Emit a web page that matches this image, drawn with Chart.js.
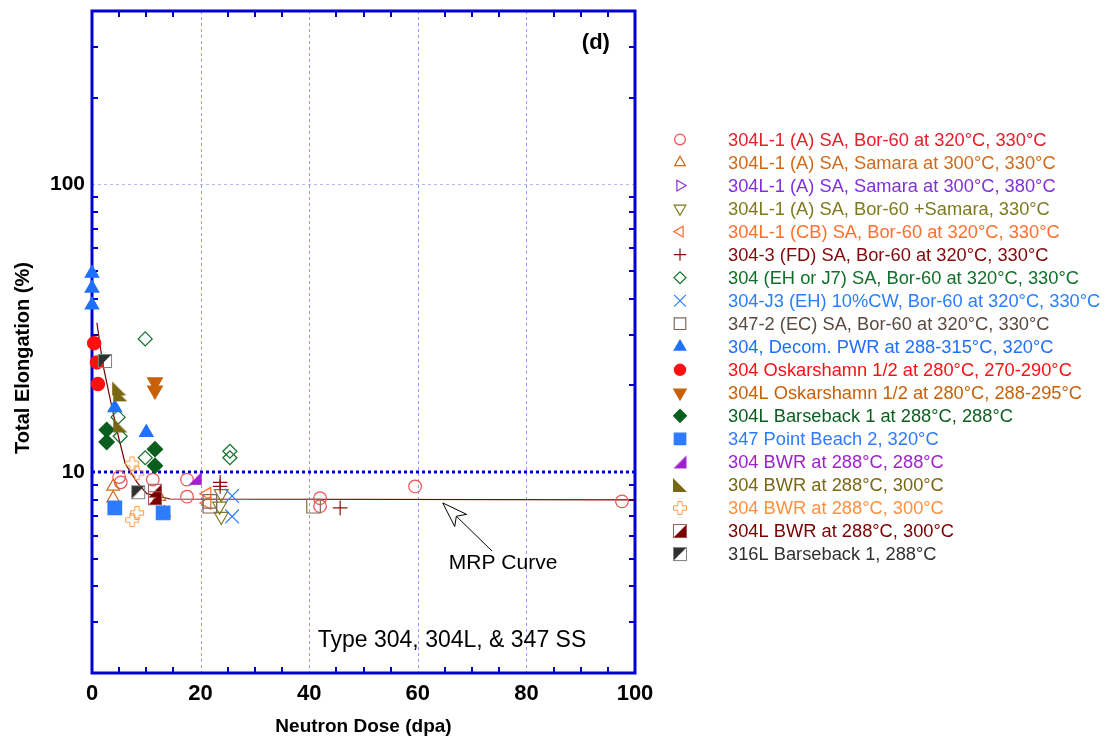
<!DOCTYPE html>
<html>
<head>
<meta charset="utf-8">
<title>Total elongation vs neutron dose</title>
<script src="https://cdn.jsdelivr.net/npm/chart.js@4.4.1/dist/chart.umd.min.js"></script>
<style>
  html, body { margin: 0; padding: 0; background: #fff; }
  #wrap { width: 1109px; height: 742px; }
</style>
</head>
<body>
<div id="wrap"><canvas id="elongChart" width="1109" height="742"></canvas></div>
<script>
// legend entries, in the order of the figure
const seriesLabels = [
  "304L-1 (A) SA, Bor-60 at 320°C, 330°C",
  "304L-1 (A) SA, Samara at 300°C, 330°C",
  "304L-1 (A) SA, Samara at 300°C, 380°C",
  "304L-1 (A) SA, Bor-60 +Samara, 330°C",
  "304L-1 (CB) SA, Bor-60 at 320°C, 330°C",
  "304-3 (FD) SA, Bor-60 at 320°C, 330°C",
  "304 (EH or J7) SA, Bor-60 at 320°C, 330°C",
  "304-J3 (EH) 10%CW, Bor-60 at 320°C, 330°C",
  "347-2 (EC) SA, Bor-60 at 320°C, 330°C",
  "304, Decom. PWR at 288-315°C, 320°C",
  "304 Oskarshamn 1/2 at 280°C, 270-290°C",
  "304L Oskarshamn 1/2 at 280°C, 288-295°C",
  "304L Barseback 1 at 288°C, 288°C",
  "347 Point Beach 2, 320°C",
  "304 BWR at 288°C, 288°C",
  "304 BWR at 288°C, 300°C",
  "304 BWR at 288°C, 300°C",
  "304L BWR at 288°C, 300°C",
  "316L Barseback 1, 288°C"
];

// [dose (dpa), total elongation (%)]
const s304L1BorA = [[5, 9.6], [5.3, 9.2], [11.2, 9.4], [17.5, 9.4], [17.5, 8.2], [42, 8.1], [42, 7.6], [59.5, 8.9], [97.6, 7.9]];
const s304L1Sam330 = [[3.9, 8.9], [3.9, 8.1], [12.4, 8.2], [13.3, 7.2]];
const s304L1Sam380 = [];
const s304L1BorSam = [[23.8, 8.4], [23.5, 7.6], [23.8, 7.0]];
const s304L1BorCB = [[21.2, 8.4], [21.2, 7.8]];
const s3043BorFD = [[23.6, 9.2], [23.6, 8.9], [45.7, 7.5]];
const s304BorEH = [[9.8, 29], [4.8, 15.5], [5.2, 13.3], [9.8, 11.2], [25.4, 11.8], [25.4, 11.2]];
const s304J3BorCW = [[25.8, 8.25], [25.8, 7.0]];
const s3472BorEC = [[21.7, 7.9], [21.7, 7.6], [40.8, 7.6]];
const s304DecomPWR = [[0, 49], [0, 43.5], [0, 38], [4.2, 16.7], [10, 13.7]];
const s304Oskar = [[0.4, 28], [0.9, 24], [1.1, 20.2]];
const s304LOskar = [[11.6, 20.5], [11.6, 19.2]];
const s304LBarse = [[2.7, 14], [2.7, 12.7], [11.6, 12], [11.6, 10.5]];
const s347PtBeach = [[4.2, 7.5], [13.1, 7.2]];
const s304Bwr288 = [[19, 9.5]];
const s304Bwr300a = [[5, 19.5], [5.2, 18.6], [5.2, 14.5]];
const s304Bwr300b = [[7.4, 10.7], [8.3, 9.9], [8.3, 7.2], [7.4, 6.8]];
const s304LBwr300 = [[11.6, 8.6], [11.6, 8.1]];
const s316LBarse = [[2.4, 24.3], [8.5, 8.5]];

// MRP design curve and the 10 % level
const mrpCurve = [[0.9, 33], [2, 23.7], [3.3, 18.1], [4.6, 13.9], [6.1, 10.7], [8.3, 9.2], [10.1, 8.4], [14.4, 8.05], [100, 8]];
const tenPercentLine = [[0, 10], [100, 10]];

// axes
const xTickValues = [0, 20, 40, 60, 80, 100];
const xMinorTicks = [5, 10, 15, 25, 30, 35, 45, 50, 55, 65, 70, 75, 85, 90, 95];
const yTickValues = [10, 100];
const yMinorTicks = [3, 4, 5, 6, 7, 8, 9, 20, 30, 40, 50, 60, 70, 80, 90, 200, 300];

const seriesData = [
  s304L1BorA, s304L1Sam330, s304L1Sam380, s304L1BorSam, s304L1BorCB, s3043BorFD,
  s304BorEH, s304J3BorCW, s3472BorEC, s304DecomPWR, s304Oskar, s304LOskar,
  s304LBarse, s347PtBeach, s304Bwr288, s304Bwr300a, s304Bwr300b, s304LBwr300, s316LBarse
];

const markerColors = [
  "#f05050", "#d06a1a", "#8a30e0", "#7f7a1e", "#ff6a2a", "#8b1010", "#107028",
  "#2a7fff", "#806858", "#1e70ff", "#ff1010", "#c8600a", "#0b5e1e", "#2f7bff",
  "#a020d0", "#786812", "#ff9a48", "#7a0000", "#303030"
];
const textColors = [
  "#e4202a", "#d06a1a", "#8030e0", "#7f7a1e", "#ff7030", "#800808", "#107028",
  "#2a7fff", "#5a4a40", "#1e70ff", "#ff1010", "#c8600a", "#0b5e1e", "#2f7bff",
  "#a020d0", "#786812", "#ff9040", "#7a0000", "#303030"
];

function makeMarker(kind, color, edge, size) {
  const c = document.createElement("canvas");
  c.width = size + 2;
  c.height = size + 2;
  const g = c.getContext("2d");
  const o = 1, s = size;
  g.fillStyle = color;
  g.strokeStyle = edge;
  g.lineWidth = 1;
  g.beginPath();
  if (kind === "rtriLR") {
    g.moveTo(o, o + s); g.lineTo(o + s, o + s); g.lineTo(o + s, o);
    g.closePath(); g.fill();
  } else if (kind === "rtriLL") {
    g.moveTo(o, o); g.lineTo(o, o + s); g.lineTo(o + s, o + s);
    g.closePath(); g.fill();
  } else if (kind === "plusOpen") {
    const p = o + 0.5, q = s - 1;
    const u = q / 3;
    g.moveTo(p + u, p); g.lineTo(p + 2 * u, p); g.lineTo(p + 2 * u, p + u);
    g.lineTo(p + q, p + u); g.lineTo(p + q, p + 2 * u); g.lineTo(p + 2 * u, p + 2 * u);
    g.lineTo(p + 2 * u, p + q); g.lineTo(p + u, p + q); g.lineTo(p + u, p + 2 * u);
    g.lineTo(p, p + 2 * u); g.lineTo(p, p + u); g.lineTo(p + u, p + u);
    g.closePath(); g.stroke();
  } else if (kind === "halfLR" || kind === "halfUL") {
    if (kind === "halfLR") {
      g.moveTo(o + s, o); g.lineTo(o + s, o + s); g.lineTo(o, o + s);
    } else {
      g.moveTo(o, o); g.lineTo(o + s, o); g.lineTo(o, o + s);
    }
    g.closePath(); g.fill();
    g.strokeRect(o + 0.5, o + 0.5, s - 1, s - 1);
  }
  return c;
}

const markerDefs = [
  { style: "circle", r: 6.3, fill: false },
  { style: "triangle", r: 7.3, fill: false },
  { style: "triangle", rot: 90, r: 7.3, fill: false },
  { style: "triangle", rot: 180, r: 8, fill: false },
  { style: "triangle", rot: -90, r: 7.3, fill: false },
  { style: "cross", r: 7.3, fill: false },
  { style: "rectRot", r: 7, fill: false },
  { style: "crossRot", r: 9.8, fill: false },
  { style: "rect", r: 9.6, fill: false },
  { style: "triangle", r: 7.8, fill: true },
  { style: "circle", r: 6.6, fill: true },
  { style: "triangle", rot: 180, r: 8.5, fill: true },
  { style: "rectRot", r: 7.6, fill: true },
  { style: "rect", r: 9.6, fill: true },
  { canvas: makeMarker("rtriLR", "#a020d0", "#a020d0", 13) },
  { canvas: makeMarker("rtriLL", "#786812", "#786812", 14) },
  { canvas: makeMarker("plusOpen", "#ff9a48", "#ff9a48", 14) },
  { canvas: makeMarker("halfLR", "#7a0000", "#a05858", 14) },
  { canvas: makeMarker("halfUL", "#303030", "#808080", 14) }
];

const datasets = seriesData.map((pts, i) => {
  const m = markerDefs[i];
  return {
    label: seriesLabels[i],
    data: pts.map(([x, y]) => ({ x, y })),
    pointStyle: m.canvas || m.style,
    pointRotation: m.rot || 0,
    pointRadius: m.r || 7,
    pointBorderWidth: 1.2,
    pointBorderColor: markerColors[i],
    pointBackgroundColor: m.fill ? markerColors[i] : "rgba(0,0,0,0)",
    showLine: false,
    clip: false,
    order: 100 - i
  };
});

datasets.push({
  label: "MRP Curve",
  data: mrpCurve.map(([x, y]) => ({ x, y })),
  showLine: true,
  borderColor: "#7a0000",
  borderWidth: 1.2,
  pointRadius: 0,
  order: 300
});
datasets.push({
  label: "10 %",
  data: tenPercentLine.map(([x, y]) => ({ x, y })),
  showLine: true,
  borderColor: "#0000dd",
  borderWidth: 3,
  borderDash: [3, 3],
  pointRadius: 0,
  order: 200
});

const FONT = '"Liberation Sans", Arial, sans-serif';

// frame, inward ticks and dashed grid
const framePlugin = {
  id: "frame",
  beforeDatasetsDraw(chart) {
    const { ctx, chartArea: a, scales: { x, y } } = chart;
    ctx.save();
    ctx.lineWidth = 1;
    ctx.setLineDash([3, 3]);
    ctx.strokeStyle = "rgba(80,80,235,0.6)";
    [20, 40, 60, 80].forEach(v => {
      const px = Math.round(x.getPixelForValue(v)) + 0.5;
      ctx.beginPath(); ctx.moveTo(px, a.top); ctx.lineTo(px, a.bottom); ctx.stroke();
    });
    ctx.strokeStyle = "rgba(120,120,235,0.55)";
    [100].forEach(v => {
      const py = Math.round(y.getPixelForValue(v)) + 0.5;
      ctx.beginPath(); ctx.moveTo(a.left, py); ctx.lineTo(a.right, py); ctx.stroke();
    });
    ctx.setLineDash([]);

    ctx.strokeStyle = "#0000d0";
    ctx.lineWidth = 2;
    const tl = 6;
    xMinorTicks.forEach(v => {
      const px = Math.round(x.getPixelForValue(v));
      ctx.beginPath();
      ctx.moveTo(px, a.top); ctx.lineTo(px, a.top + tl);
      ctx.moveTo(px, a.bottom); ctx.lineTo(px, a.bottom - tl);
      ctx.stroke();
    });
    yMinorTicks.forEach(v => {
      const py = Math.round(y.getPixelForValue(v));
      ctx.beginPath();
      ctx.moveTo(a.left, py); ctx.lineTo(a.left + tl, py);
      ctx.moveTo(a.right, py); ctx.lineTo(a.right - tl, py);
      ctx.stroke();
    });
    ctx.lineWidth = 3;
    ctx.strokeRect(a.left, a.top, a.right - a.left, a.bottom - a.top);
    ctx.restore();
  }
};

// notes, arrow, y title and the legend column on the right
const notesPlugin = {
  id: "notes",
  afterDraw(chart) {
    const { ctx, chartArea: a, scales: { x, y } } = chart;
    ctx.save();
    ctx.fillStyle = "#000";
    ctx.textAlign = "center";
    ctx.textBaseline = "middle";
    ctx.font = "bold 22px " + FONT;
    ctx.fillText("(d)", x.getPixelForValue(92.8), y.getPixelForValue(311));
    ctx.font = "23px " + FONT;
    ctx.fillText("Type 304, 304L, & 347 SS", x.getPixelForValue(66.3), y.getPixelForValue(2.6));
    ctx.font = "21px " + FONT;
    ctx.fillText("MRP Curve", x.getPixelForValue(75.7), y.getPixelForValue(4.8));

    // arrow to the MRP curve
    const tx = x.getPixelForValue(64.6), ty = y.getPixelForValue(7.8);
    const ex = x.getPixelForValue(73.7), ey = y.getPixelForValue(5.3);
    const len = Math.hypot(ex - tx, ey - ty);
    const ux = (ex - tx) / len, uy = (ey - ty) / len;
    const px = -uy, py = ux;
    ctx.strokeStyle = "#000";
    ctx.lineWidth = 1;
    ctx.beginPath();
    ctx.moveTo(tx + ux * 19, ty + uy * 19);
    ctx.lineTo(ex, ey);
    ctx.stroke();
    ctx.beginPath();
    ctx.moveTo(tx, ty);
    ctx.lineTo(tx + ux * 25 + px * 8.5, ty + uy * 25 + py * 8.5);
    ctx.lineTo(tx + ux * 19, ty + uy * 19);
    ctx.lineTo(tx + ux * 25 - px * 8.5, ty + uy * 25 - py * 8.5);
    ctx.closePath();
    ctx.fillStyle = "#fff";
    ctx.fill();
    ctx.stroke();

    // y axis title
    ctx.save();
    ctx.translate(23, (a.top + a.bottom) / 2 + 16);
    ctx.rotate(-Math.PI / 2);
    ctx.fillStyle = "#000";
    ctx.font = "bold 20px " + FONT;
    ctx.fillText("Total Elongation (%)", 0, 0);
    ctx.restore();

    // legend
    const lx = a.right + 45, tx0 = a.right + 93, top = a.top + 128.5, step = 23.03;
    ctx.textAlign = "left";
    ctx.font = "18.3px " + FONT;
    seriesLabels.forEach((label, i) => {
      const ly = top + i * step;
      const m = markerDefs[i];
      ctx.save();
      ctx.strokeStyle = markerColors[i];
      ctx.fillStyle = m.fill ? markerColors[i] : "rgba(0,0,0,0)";
      ctx.lineWidth = 1.2;
      Chart.helpers.drawPoint(ctx, {
        pointStyle: m.canvas || m.style,
        radius: (m.r || 7) * 0.85,
        rotation: m.rot || 0,
        borderWidth: 1.2
      }, lx, ly);
      ctx.restore();
      ctx.fillStyle = textColors[i];
      ctx.fillText(label, tx0, ly + 1);
    });
    ctx.restore();
  }
};

new Chart(document.getElementById("elongChart"), {
  type: "scatter",
  data: { datasets },
  options: {
    responsive: false,
    animation: false,
    events: [],
    layout: { padding: { left: 0, top: 8, right: 474, bottom: 0 } },
    plugins: {
      legend: { display: false },
      tooltip: { enabled: false }
    },
    scales: {
      x: {
        type: "linear",
        min: 0,
        max: 100,
        grid: { display: false, drawTicks: false },
        border: { display: false },
        afterBuildTicks: s => { s.ticks = xTickValues.map(v => ({ value: v })); },
        afterFit: s => { s.height = 69; },
        ticks: {
          autoSkip: false,
          maxRotation: 0,
          padding: 8,
          color: "#000",
          font: { family: FONT, size: 22, weight: "bold" }
        },
        title: {
          display: true,
          text: "Neutron Dose (dpa)",
          color: "#000",
          font: { family: FONT, size: 19, weight: "bold" },
          padding: { top: 0, bottom: 4 }
        }
      },
      y: {
        type: "logarithmic",
        min: 2,
        max: 400,
        grid: { display: false, drawTicks: false },
        border: { display: false },
        afterBuildTicks: s => { s.ticks = yTickValues.map(v => ({ value: v })); },
        afterFit: s => { s.width = 92; },
        ticks: {
          autoSkip: false,
          padding: 7,
          color: "#000",
          font: { family: FONT, size: 21, weight: "bold", lineHeight: 0.1 },
          callback: v => String(v)
        }
      }
    }
  },
  plugins: [framePlugin, notesPlugin]
});
</script>
</body>
</html>
